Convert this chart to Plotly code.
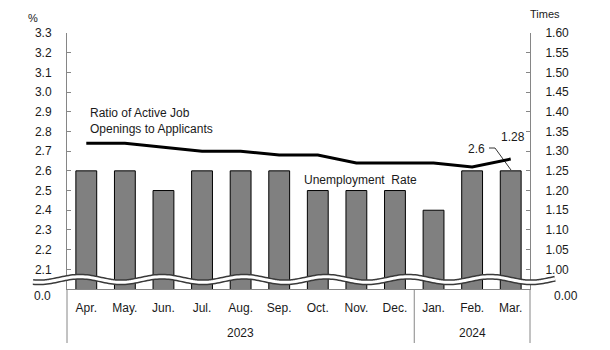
import math
import plotly.graph_objects as go

months = ["Apr.", "May.", "Jun.", "Jul.", "Aug.", "Sep.", "Oct.", "Nov.", "Dec.", "Jan.", "Feb.", "Mar."]
unemployment = [2.6, 2.6, 2.5, 2.6, 2.6, 2.6, 2.5, 2.5, 2.5, 2.4, 2.6, 2.6]
ratio = [1.32, 1.32, 1.31, 1.30, 1.30, 1.29, 1.29, 1.27, 1.27, 1.27, 1.26, 1.28]
years = ["2023", "2024"]
left_ticks = [2.1, 2.2, 2.3, 2.4, 2.5, 2.6, 2.7, 2.8, 2.9, 3.0, 3.1, 3.2, 3.3]
left_labels = [f"{v:.1f}" for v in left_ticks]
right_ticks = [1.00, 1.05, 1.10, 1.15, 1.20, 1.25, 1.30, 1.35, 1.40, 1.45, 1.50, 1.55, 1.60]
right_labels = [f"{v:.2f}" for v in right_ticks]
left_base_label = "0.0"
right_base_label = "0.00"

W, H = 610, 350
L, R, T, B = 67, 80, 33, 61
PW, PH = W - L - R, H - T - B
FONT = "Liberation Sans, Arial, sans-serif"
AX = "#868686"
TXT = "#1a1a1a"


def px(x):
    return (x - L) / PW


def py(y):
    return (H - B - y) / PH


fig = go.Figure()
fig.add_trace(go.Bar(x=months, y=unemployment, marker=dict(color="#808080", line=dict(color="#000000", width=1)),
                     width=0.54, yaxis="y", name="Unemployment Rate", showlegend=False))
fig.add_trace(go.Scatter(x=months, y=ratio, mode="lines", line=dict(color="#000000", width=3),
                         yaxis="y2", name="Ratio", showlegend=False))

# wavy axis-break band
pts = []
x = 33.0
while x <= 555.0:
    y = 279.5 - 2.8 * math.cos(2 * math.pi * (x - 80) / 82)
    pts.append((px(x), py(y)))
    x += 2.0
path = "M " + " L ".join(f"{a:.5f},{b:.5f}" for a, b in pts)

shapes = [
    dict(type="path", path=path, xref="paper", yref="paper", line=dict(color="#3a3a3a", width=6), layer="above"),
    dict(type="path", path=path, xref="paper", yref="paper", line=dict(color="#ffffff", width=3), layer="above"),
    # category separators below axis
    dict(type="line", xref="paper", yref="paper", x0=0, x1=0, y0=0, y1=py(343), line=dict(color=AX, width=1)),
    dict(type="line", xref="paper", yref="paper", x0=1, x1=1, y0=0, y1=py(343), line=dict(color=AX, width=1)),
    dict(type="line", xref="x", yref="paper", x0=8.5, x1=8.5, y0=0, y1=py(343), line=dict(color=AX, width=1)),
    # leader line for 2.6
    dict(type="path", xref="paper", yref="paper",
         path=f"M {px(489):.5f},{py(148):.5f} L {px(495):.5f},{py(148):.5f} L {px(511):.5f},{py(170):.5f}",
         line=dict(color="#000000", width=0.8)),
]

annotations = [
    dict(text="%", x=px(33), y=py(18), xref="paper", yref="paper", showarrow=False, xanchor="center", yanchor="middle",
         font=dict(size=11, color=TXT)),
    dict(text="Times", x=px(545), y=py(14), xref="paper", yref="paper", showarrow=False, xanchor="center", yanchor="middle",
         font=dict(size=11, color=TXT)),
    dict(text=left_base_label, x=px(53), y=py(296), xref="paper", yref="paper", showarrow=False, xanchor="right",
         yanchor="middle", font=dict(size=12, color=TXT)),
    dict(text=right_base_label, x=px(552), y=py(296), xref="paper", yref="paper", showarrow=False, xanchor="left",
         yanchor="middle", font=dict(size=12, color=TXT)),
    dict(text="Ratio of Active Job<br>Openings to Applicants", x=px(88), y=py(121), xref="paper", yref="paper",
         showarrow=False, xanchor="left", yanchor="middle", align="left", font=dict(size=12, color=TXT)),
    dict(text="Unemployment  Rate", x=px(360), y=py(180), xref="paper", yref="paper", showarrow=False,
         xanchor="center", yanchor="middle", font=dict(size=12, color=TXT)),
    dict(text="2.6", x=px(476), y=py(149), xref="paper", yref="paper", showarrow=False,
         xanchor="center", yanchor="middle", font=dict(size=12, color=TXT)),
    dict(text="1.28", x=px(513), y=py(137), xref="paper", yref="paper", showarrow=False,
         xanchor="center", yanchor="middle", font=dict(size=12, color=TXT)),
    dict(text=years[0], x=4, y=py(333), xref="x", yref="paper", showarrow=False,
         xanchor="center", yanchor="middle", font=dict(size=12, color=TXT)),
    dict(text=years[1], x=10, y=py(333), xref="x", yref="paper", showarrow=False,
         xanchor="center", yanchor="middle", font=dict(size=12, color=TXT)),
]

fig.update_layout(
    width=W, height=H,
    margin=dict(l=L, r=R, t=T, b=B, pad=0),
    paper_bgcolor="white", plot_bgcolor="white",
    font=dict(family=FONT, size=12, color=TXT),
    hovermode=False,
    bargap=0.46,
    xaxis=dict(type="category", showline=True, linecolor=AX, linewidth=1, ticks="", showgrid=False,
               ticklabelstandoff=8, tickfont=dict(size=12, color=TXT), fixedrange=True, mirror=False),
    yaxis=dict(range=[2.0, 3.3], tickvals=left_ticks, ticktext=left_labels, showline=True, linecolor=AX,
               ticks="inside", ticklen=4, tickcolor=AX, showgrid=False, zeroline=False,
               ticklabelstandoff=12, tickfont=dict(size=12, color=TXT)),
    yaxis2=dict(range=[0.95, 1.60], tickvals=right_ticks, ticktext=right_labels, overlaying="y", side="right",
                showline=True, linecolor=AX, ticks="inside", ticklen=4, tickcolor=AX, showgrid=False,
                zeroline=False, ticklabelstandoff=12, tickfont=dict(size=12, color=TXT)),
    shapes=shapes,
    annotations=annotations,
)

fig.write_html("out.html")
